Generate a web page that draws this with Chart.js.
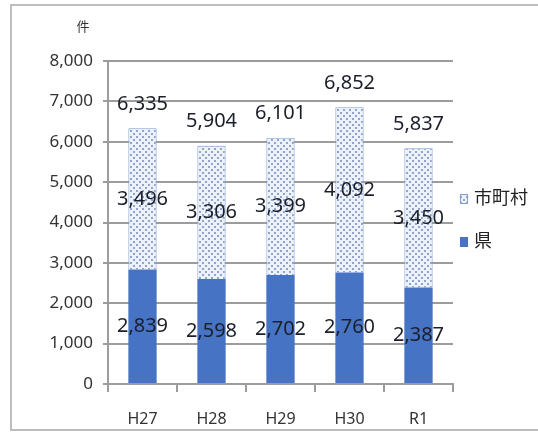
<!DOCTYPE html>
<html>
<head>
<meta charset="utf-8">
<script src="https://cdn.jsdelivr.net/npm/chart.js@4/dist/chart.umd.min.js"></script>
<style>
  html, body { margin: 0; padding: 0; background: #fff; }
  #frame { position: absolute; left: 10px; top: 4px; width: 600px; height: 427px;
           border: 2px solid #bdbdbd; box-sizing: border-box; }
  #wrap { position: absolute; left: 0; top: 0; width: 538px; height: 437px; }
</style>
</head>
<body>
<div id="frame"></div>
<div id="wrap"><canvas id="c" width="538" height="437"></canvas></div>
<script>
// 年度別の件数（県・市町村）
const categories = ['H27', 'H28', 'H29', 'H30', 'R1'];
const prefValues = [2839, 2598, 2702, 2760, 2387];        // 県
const municipalValues = [3496, 3306, 3399, 4092, 3450];   // 市町村
const seriesNames = ['県', '市町村'];
const unitLabel = '件';
const yMin = 0, yMax = 8000, yStep = 1000;

const FONT = '"Noto Sans", "Noto Sans CJK JP", sans-serif';
const solidBlue = '#4673c3';
const gridGray = '#9c9c9c';

// dotted fill for the municipal segments (staggered dots)
function makeDotPattern() {
  const p = document.createElement('canvas');
  p.width = 6; p.height = 6;
  const g = p.getContext('2d');
  g.fillStyle = '#edf2fa';
  g.fillRect(0, 0, 6, 6);
  g.fillStyle = '#8fa5cc';
  g.fillRect(1, 1, 2, 2);
  g.fillRect(4, 4, 2, 2);
  return document.getElementById('c').getContext('2d').createPattern(p, 'repeat');
}
const dots = makeDotPattern();

const fmt = v => v.toLocaleString('en-US');

const labelPlugin = {
  id: 'segLabels',
  afterDatasetsDraw(chart) {
    const ctx = chart.ctx;
    ctx.save();
    ctx.font = '20px ' + FONT;
    ctx.fillStyle = '#1b1f2a';
    ctx.textAlign = 'center';
    ctx.textBaseline = 'middle';
    chart.data.datasets.forEach((ds, di) => {
      const meta = chart.getDatasetMeta(di);
      meta.data.forEach((bar, i) => {
        const mid = (bar.y + bar.base) / 2;
        ctx.fillText(fmt(ds.data[i]), bar.x, mid);
      });
    });
    // totals above each stack
    const top = chart.getDatasetMeta(1);
    top.data.forEach((bar, i) => {
      const total = prefValues[i] + municipalValues[i];
      ctx.fillText(fmt(total), bar.x, bar.y - 24);
    });
    ctx.restore();
  },
  afterDraw(chart) {
    const ctx = chart.ctx;
    ctx.save();
    // unit label
    ctx.font = '13px ' + FONT;
    ctx.fillStyle = '#333';
    ctx.textAlign = 'center';
    ctx.textBaseline = 'middle';
    ctx.fillText(unitLabel, 83, 27);
    // legend
    const items = [
      { text: seriesNames[1], fill: dots, stroke: '#7f9fd0', y: 199 },
      { text: seriesNames[0], fill: solidBlue, stroke: solidBlue, y: 242 }
    ];
    ctx.font = '18px ' + FONT;
    ctx.textAlign = 'left';
    items.forEach(it => {
      ctx.fillStyle = it.fill;
      ctx.fillRect(460, it.y - 5, 8, 10);
      ctx.strokeStyle = it.stroke;
      ctx.lineWidth = 1;
      ctx.strokeRect(460.5, it.y - 4.5, 7, 9);
      ctx.fillStyle = '#222';
      ctx.fillText(it.text, 474, it.y);
    });
    ctx.restore();
  }
};

new Chart(document.getElementById('c'), {
  type: 'bar',
  data: {
    labels: categories,
    datasets: [
      { label: seriesNames[0], data: prefValues, backgroundColor: solidBlue,
        borderWidth: 0 },
      { label: seriesNames[1], data: municipalValues, backgroundColor: dots,
        borderColor: '#7f9fd0', borderWidth: 1 }
    ]
  },
  options: {
    responsive: false,
    animation: false,
    layout: { padding: { left: 48, top: 61, right: 85, bottom: 0 } },
    plugins: { legend: { display: false }, tooltip: { enabled: false } },
    datasets: { bar: { categoryPercentage: 1, barPercentage: 0.41 } },
    scales: {
      x: {
        stacked: true,
        offset: true,
        afterFit: s => { s.height = 53; },
        grid: { display: true, drawOnChartArea: false, offset: true,
                color: gridGray, lineWidth: 2, tickLength: 8 },
        border: { color: gridGray, width: 2 },
        ticks: { padding: 18, color: '#333', font: { family: FONT, size: 16 } }
      },
      y: {
        stacked: true,
        min: yMin, max: yMax,
        afterFit: s => { s.width = 60; },
        grid: { color: gridGray, lineWidth: 2, tickLength: 5 },
        border: { color: gridGray, width: 2 },
        ticks: { stepSize: yStep, padding: 10, color: '#333',
                 font: { family: FONT, size: 17 },
                 callback: v => fmt(v) }
      }
    }
  },
  plugins: [labelPlugin]
});
</script>
</body>
</html>
